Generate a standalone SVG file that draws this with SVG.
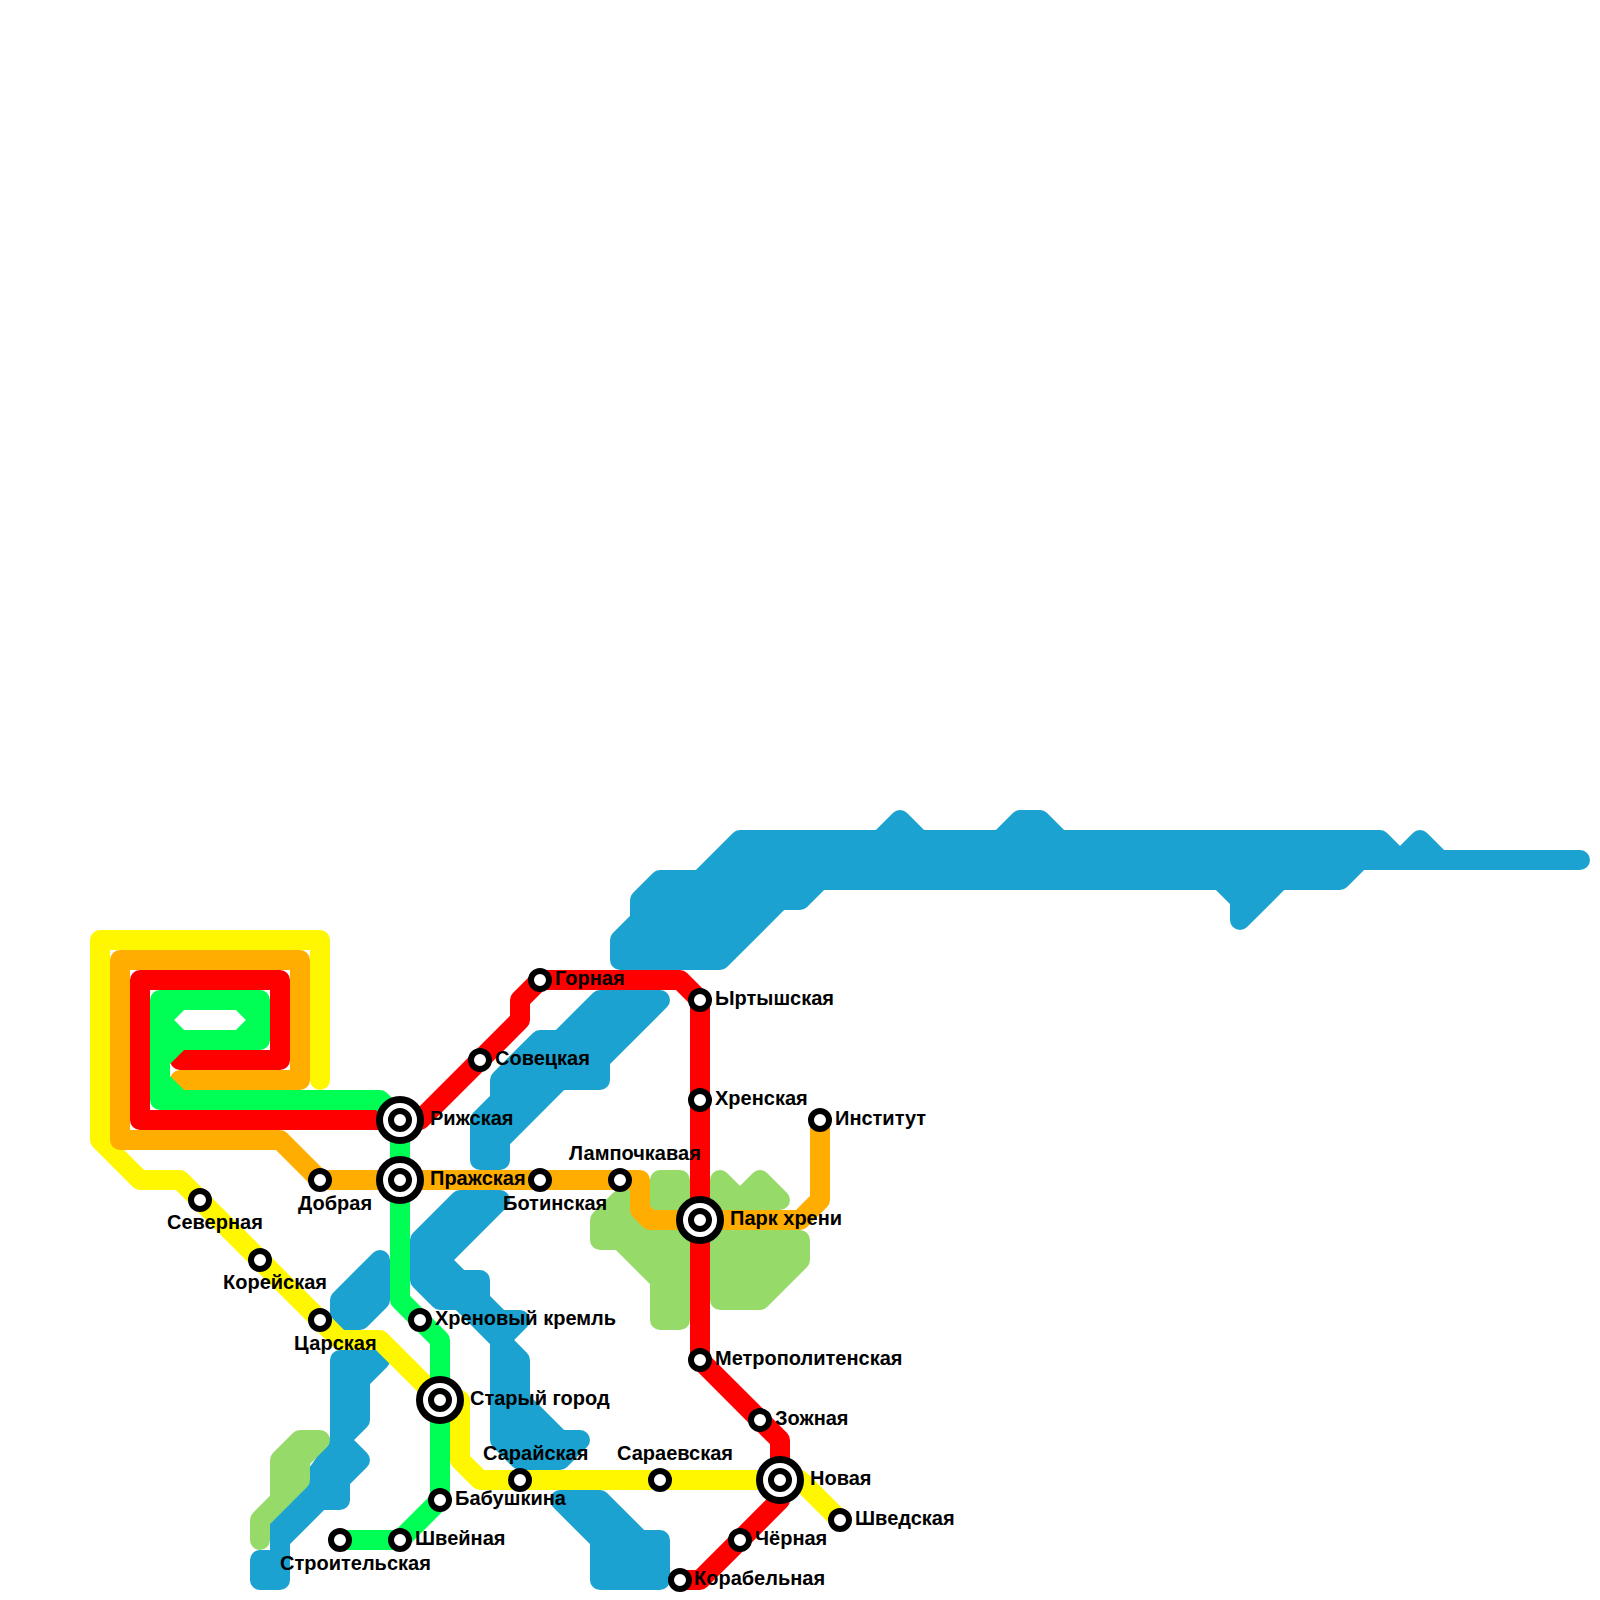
<svg xmlns="http://www.w3.org/2000/svg" width="1600" height="1600" viewBox="0 0 1600 1600">
<style>
.w{fill:#1ba2d0;stroke:#1ba2d0;stroke-width:20;stroke-linejoin:round;stroke-linecap:round}
.p{fill:#96da6a;stroke:#96da6a;stroke-width:20;stroke-linejoin:round;stroke-linecap:round}
.l{fill:none;stroke-width:20;stroke-linejoin:round;stroke-linecap:round}
.y{stroke:#fff700}.o{stroke:#ffad00}.r{stroke:#ff0000}.g{stroke:#00ff55}
.s{fill:#fff;stroke:#000;stroke-width:6}
.b{fill:#fff;stroke:#000;stroke-width:7}
text{font-family:"Liberation Sans",Arial,sans-serif;font-weight:700;font-size:20px;fill:#000}
</style>
<g id="water">
<path class="w" d="M620,960 L620,940 L640,920 L640,900 L660,880 L700,880 L740,840 L880,840 L900,820 L920,840 L1000,840 L1020,820 L1040,820 L1060,840 L1380,840 L1400,860 L1420,840 L1440,860 L1580,860 L1360,860 L1340,880 L1280,880 L1240,920 L1240,900 L1220,880 L820,880 L800,900 L780,900 L720,960 Z"/>
<path class="w" d="M660,1000 L600,1060 L600,1080 L560,1080 L500,1140 L500,1160 L480,1160 L480,1120 L500,1100 L500,1080 L540,1040 L560,1040 L600,1000 Z"/>
<path class="w" d="M460,1200 L500,1200 L440,1260 L460,1280 L480,1280 L480,1300 L500,1320 L520,1320 L500,1340 L520,1360 L520,1400 L560,1440 L580,1440 L560,1460 L520,1460 L500,1440 L500,1340 L460,1300 L440,1300 L420,1280 L420,1240 Z"/>
<path class="w" d="M380,1260 L340,1300 L340,1320 L360,1320 L380,1300 Z"/>
<path class="w" d="M340,1360 L380,1360 L360,1380 L360,1420 L340,1440 L360,1460 L340,1480 L340,1500 L320,1500 L280,1540 L280,1580 L260,1580 L260,1560 L280,1560 L280,1520 L320,1470 L340,1440 Z"/>
<path class="w" d="M560,1500 L600,1500 L640,1540 L660,1540 L660,1580 L600,1580 L600,1540 Z"/>
</g>
<g id="parks">
<path class="p" d="M300,1440 L320,1440 L300,1460 L300,1480 L260,1520 L260,1540 L260,1520 L280,1500 L280,1460 Z"/>
<path class="p" d="M660,1180 L680,1180 L680,1320 L660,1320 L660,1280 L620,1240 L600,1240 L600,1220 L620,1200 L660,1200 Z"/>
<path class="p" d="M720,1180 L740,1200 L760,1180 L780,1200 L720,1200 Z M720,1240 L800,1240 L800,1260 L760,1300 L720,1300 Z"/>
</g>
<g id="connectors">
<path class="l y" d="M320,1080 L320,940 L100,940 L100,1140 L140,1180 L180,1180 L320,1320 L340,1340 L380,1340 L440,1400 L460,1400 L460,1460 L480,1480 L800,1480 L840,1520"/>
<path class="l o" d="M180,1080 L300,1080 L300,960 L120,960 L120,1140 L280,1140 L320,1180 L640,1180 L640,1210 L650,1220 L800,1220 L820,1200 L820,1120"/>
<path class="l r" d="M180,1060 L280,1060 L280,980 L140,980 L140,1120 L420,1120 L520,1020 L520,1000 L540,980 L680,980 L700,1000 L700,1360 L780,1440 L780,1500 L700,1580 L680,1580"/>
<path class="l g" d="M400,1120 L380,1100 L160,1100 L160,1000 L260,1000 L260,1040 L180,1040 L160,1060 M180,1000 L160,1020 L180,1040 M240,1000 L260,1020 L240,1040 M160,1080 L180,1100 M400,1120 L400,1300 L440,1340 L440,1500 L400,1540 L340,1540"/>
</g>
<g id="st-severnaya"><circle class="s" cx="200" cy="1200" r="9"/><text x="167" y="1229">Северная</text></g>
<g id="st-koreyskaya"><circle class="s" cx="260" cy="1260" r="9"/><text x="223" y="1289">Корейская</text></g>
<g id="st-tsarskaya"><circle class="s" cx="320" cy="1320" r="9"/><text x="294" y="1350">Царская</text></g>
<g id="st-dobraya"><circle class="s" cx="320" cy="1180" r="9"/><text x="298" y="1210">Добрая</text></g>
<g id="st-rizhskaya"><circle class="b" cx="400" cy="1120" r="20.5"/><circle class="s" cx="400" cy="1120" r="9"/><text x="430" y="1125">Рижская</text></g>
<g id="st-prazhskaya"><circle class="b" cx="400" cy="1180" r="20.5"/><circle class="s" cx="400" cy="1180" r="9"/><text x="430" y="1185">Пражская</text></g>
<g id="st-botinskaya"><circle class="s" cx="540" cy="1180" r="9"/><text x="503" y="1210">Ботинская</text></g>
<g id="st-lampochkavaya"><circle class="s" cx="620" cy="1180" r="9"/><text x="569" y="1160">Лампочкавая</text></g>
<g id="st-park"><circle class="b" cx="700" cy="1220" r="20.5"/><circle class="s" cx="700" cy="1220" r="9"/><text x="730" y="1225">Парк хрени</text></g>
<g id="st-institut"><circle class="s" cx="820" cy="1120" r="9"/><text x="835" y="1125">Институт</text></g>
<g id="st-khrenskaya"><circle class="s" cx="700" cy="1100" r="9"/><text x="715" y="1105">Хренская</text></g>
<g id="st-yrtyshskaya"><circle class="s" cx="700" cy="1000" r="9"/><text x="715" y="1005">Ыртышская</text></g>
<g id="st-gornaya"><circle class="s" cx="540" cy="980" r="9"/><text x="555" y="985">Горная</text></g>
<g id="st-sovetskaya"><circle class="s" cx="480" cy="1060" r="9"/><text x="495" y="1065">Совецкая</text></g>
<g id="st-kreml"><circle class="s" cx="420" cy="1320" r="9"/><text x="435" y="1325">Хреновый кремль</text></g>
<g id="st-stary"><circle class="b" cx="440" cy="1400" r="20.5"/><circle class="s" cx="440" cy="1400" r="9"/><text x="470" y="1405">Старый город</text></g>
<g id="st-saraiskaya"><circle class="s" cx="520" cy="1480" r="9"/><text x="483" y="1460">Сарайская</text></g>
<g id="st-babushkina"><circle class="s" cx="440" cy="1500" r="9"/><text x="455" y="1505">Бабушкина</text></g>
<g id="st-shveynaya"><circle class="s" cx="400" cy="1540" r="9"/><text x="415" y="1545">Швейная</text></g>
<g id="st-stroitelskaya"><circle class="s" cx="340" cy="1540" r="9"/><text x="280" y="1570">Строительская</text></g>
<g id="st-metro"><circle class="s" cx="700" cy="1360" r="9"/><text x="715" y="1365">Метрополитенская</text></g>
<g id="st-zozhnaya"><circle class="s" cx="760" cy="1420" r="9"/><text x="775" y="1425">Зожная</text></g>
<g id="st-novaya"><circle class="b" cx="780" cy="1480" r="20.5"/><circle class="s" cx="780" cy="1480" r="9"/><text x="810" y="1485">Новая</text></g>
<g id="st-shvedskaya"><circle class="s" cx="840" cy="1520" r="9"/><text x="855" y="1525">Шведская</text></g>
<g id="st-chernaya"><circle class="s" cx="740" cy="1540" r="9"/><text x="755" y="1545">Чёрная</text></g>
<g id="st-korabelnaya"><circle class="s" cx="680" cy="1580" r="9"/><text x="694" y="1585">Корабельная</text></g>
<g id="st-saraevskaya"><circle class="s" cx="660" cy="1480" r="9"/><text x="617" y="1460">Сараевская</text></g>
</svg>
